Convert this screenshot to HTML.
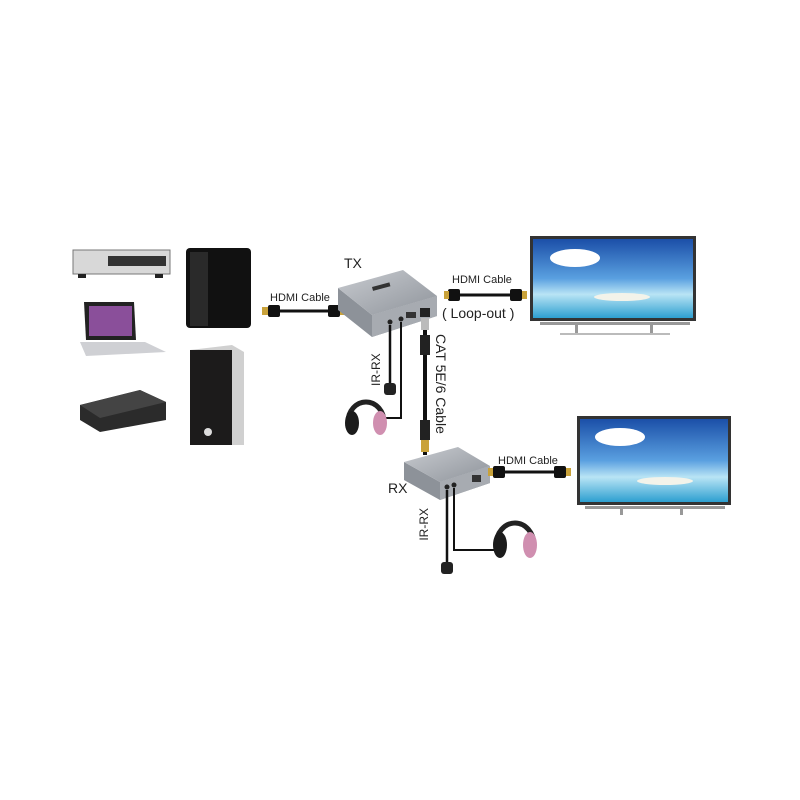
<!DOCTYPE html>
<html><head><style>body{margin:0;background:#fff}svg{display:block}text{font-family:"Liberation Sans",sans-serif;fill:#222}</style></head>
<body>
<svg width="800" height="800" viewBox="0 0 800 800" xmlns="http://www.w3.org/2000/svg">
<defs>
<linearGradient id="sky" x1="0" y1="0" x2="0" y2="1"><stop offset="0" stop-color="#1b4fa8"/><stop offset="0.5" stop-color="#5aa0e0"/><stop offset="0.7" stop-color="#b9e4f5"/><stop offset="1" stop-color="#2d9fd0"/></linearGradient>
<linearGradient id="box" x1="0" y1="0" x2="1" y2="1"><stop offset="0" stop-color="#c8cbd0"/><stop offset="1" stop-color="#8f949b"/></linearGradient>
</defs>
<rect x="73" y="250" width="97" height="24" fill="#d8d8d8" stroke="#777"/>
<rect x="108" y="256" width="58" height="10" fill="#333"/>
<rect x="78" y="274" width="8" height="4" fill="#222"/><rect x="155" y="274" width="8" height="4" fill="#222"/>
<rect x="186" y="248" width="65" height="80" rx="4" fill="#111"/>
<rect x="190" y="252" width="18" height="74" fill="#2a2a2a"/>
<polygon points="84,302 134,302 136,340 86,340" fill="#222"/>
<rect x="89" y="306" width="43" height="30" fill="#8a4f9a"/>
<polygon points="80,342 145,342 166,352 86,356" fill="#cfd0d4"/>
<polygon points="80,405 140,390 166,402 166,420 100,432 80,420" fill="#2b2b2b"/>
<polygon points="80,405 140,390 166,402 100,418" fill="#444"/>
<polygon points="190,350 232,345 244,352 244,445 190,445" fill="#d0d0d0"/>
<rect x="190" y="350" width="42" height="95" fill="#1c1b1b"/>
<circle cx="208" cy="432" r="4" fill="#ddd"/>
<text x="270" y="301" font-size="11">HDMI Cable</text>
<rect x="262" y="307" width="6" height="8" fill="#c9a23a"/><rect x="268" y="305" width="12" height="12" rx="2" fill="#111"/>
<line x1="280" y1="311" x2="330" y2="311" stroke="#111" stroke-width="3"/>
<rect x="328" y="305" width="12" height="12" rx="2" fill="#111"/><rect x="340" y="307" width="5" height="8" fill="#c9a23a"/>
<text x="344" y="268" font-size="14">TX</text>
<polygon points="338,288 338,310 372,337 437,316 437,296 372,315" fill="#8d9299"/>
<polygon points="338,288 403,270 437,296 372,315" fill="url(#box)"/>
<polygon points="372,315 437,296 437,316 372,337" fill="#a7abb1"/>
<rect x="372" y="287" width="18" height="4" fill="#333" transform="rotate(-15 372 287)"/>
<rect x="420" y="308" width="10" height="9" fill="#222"/><rect x="406" y="312" width="10" height="6" fill="#333"/>
<circle cx="390" cy="322" r="2.5" fill="#222"/><circle cx="401" cy="319" r="2.5" fill="#222"/>
<polyline points="390,325 390,385" fill="none" stroke="#111" stroke-width="2.5"/>
<rect x="384" y="383" width="12" height="12" rx="3" fill="#222"/>
<polyline points="401,322 401,418 385,418" fill="none" stroke="#111" stroke-width="2"/>
<line x1="425" y1="318" x2="425" y2="455" stroke="#111" stroke-width="4"/>
<rect x="421" y="318" width="8" height="12" fill="#bbb"/><rect x="420" y="335" width="10" height="20" fill="#222"/>
<rect x="420" y="420" width="10" height="20" fill="#222"/><rect x="421" y="440" width="8" height="12" fill="#c9a23a"/>
<text font-size="14" transform="translate(436,334) rotate(90)">CAT 5E/6 Cable</text>
<text font-size="12" transform="translate(380,386) rotate(-90)">IR-RX</text>
<path d="M348,422 a18,20 0 0 1 36,0" fill="none" stroke="#222" stroke-width="5"/>
<ellipse cx="352" cy="423" rx="7" ry="12" fill="#1b1b1b"/><ellipse cx="380" cy="423" rx="7" ry="12" fill="#d08fb0"/>
<text x="452" y="283" font-size="11">HDMI Cable</text>
<rect x="448" y="289" width="12" height="12" rx="2" fill="#111"/><rect x="444" y="291" width="5" height="8" fill="#c9a23a"/>
<line x1="460" y1="295" x2="512" y2="295" stroke="#111" stroke-width="3"/>
<rect x="510" y="289" width="12" height="12" rx="2" fill="#111"/><rect x="522" y="291" width="5" height="8" fill="#c9a23a"/>
<text x="442" y="318" font-size="14">( Loop-out )</text>
<rect x="530" y="236" width="166" height="85" fill="#333"/>
<rect x="533" y="239" width="160" height="79" fill="url(#sky)"/>
<ellipse cx="575" cy="258" rx="25" ry="9" fill="#fff"/>
<ellipse cx="622" cy="297" rx="28" ry="4" fill="#f3f3ea"/>
<rect x="540" y="322" width="150" height="3" fill="#999"/>
<rect x="575" y="325" width="3" height="8" fill="#999"/><rect x="650" y="325" width="3" height="8" fill="#999"/>
<rect x="560" y="333" width="110" height="2" fill="#bbb"/>
<text x="388" y="493" font-size="14">RX</text>
<polygon points="404,462 404,480 440,500 490,483 490,466 440,482" fill="#8d9299"/>
<polygon points="404,462 458,447 490,466 440,482" fill="url(#box)"/>
<polygon points="440,482 490,466 490,483 440,500" fill="#a7abb1"/>
<rect x="472" y="475" width="9" height="7" fill="#333"/>
<circle cx="447" cy="487" r="2.5" fill="#222"/><circle cx="454" cy="485" r="2.5" fill="#222"/>
<line x1="447" y1="490" x2="447" y2="565" stroke="#111" stroke-width="2.5"/>
<rect x="441" y="562" width="12" height="12" rx="3" fill="#222"/>
<polyline points="454,488 454,550 498,550" fill="none" stroke="#111" stroke-width="2"/>
<text font-size="12" transform="translate(428,508) rotate(-90)" text-anchor="end">IR-RX</text>
<path d="M496,545 a19,22 0 0 1 38,0" fill="none" stroke="#222" stroke-width="5"/>
<ellipse cx="500" cy="545" rx="7" ry="13" fill="#1b1b1b"/><ellipse cx="530" cy="545" rx="7" ry="13" fill="#d08fb0"/>
<text x="498" y="464" font-size="11">HDMI Cable</text>
<rect x="488" y="468" width="5" height="8" fill="#c9a23a"/><rect x="493" y="466" width="12" height="12" rx="2" fill="#111"/>
<line x1="505" y1="472" x2="556" y2="472" stroke="#111" stroke-width="3"/>
<rect x="554" y="466" width="12" height="12" rx="2" fill="#111"/><rect x="566" y="468" width="5" height="8" fill="#c9a23a"/>
<rect x="577" y="416" width="154" height="89" fill="#333"/>
<rect x="580" y="419" width="148" height="83" fill="url(#sky)"/>
<ellipse cx="620" cy="437" rx="25" ry="9" fill="#fff"/>
<ellipse cx="665" cy="481" rx="28" ry="4" fill="#f3f3ea"/>
<rect x="585" y="506" width="140" height="3" fill="#999"/>
<rect x="620" y="509" width="3" height="6" fill="#999"/><rect x="680" y="509" width="3" height="6" fill="#999"/>
</svg>
</body></html>
